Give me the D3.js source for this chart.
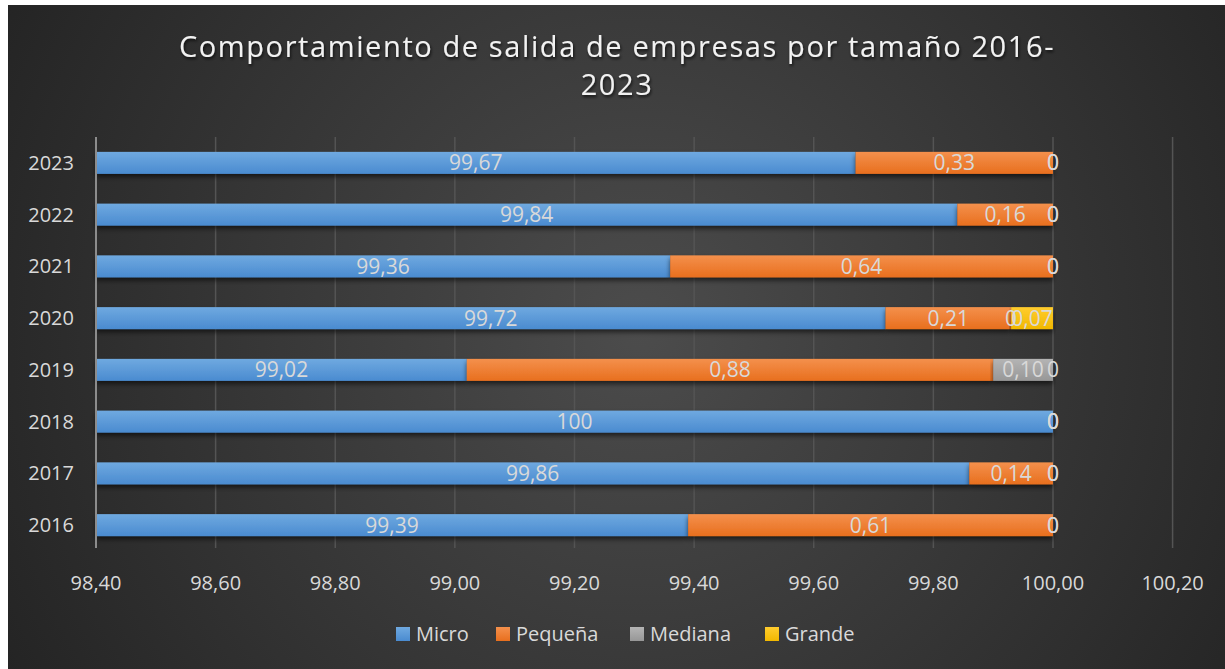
<!DOCTYPE html>
<html>
<head>
<meta charset="utf-8">
<script src="https://cdn.jsdelivr.net/npm/d3@7"></script>
<style>
  body { margin: 0; background: #ffffff; }
  svg { display: block; }
  text { font-family: "Open Sans", "Noto Sans", sans-serif; }
</style>
</head>
<body>
<svg></svg>
<script>
const width = 1225;
const height = 669;

// data
const years = ["2023", "2022", "2021", "2020", "2019", "2018", "2017", "2016"];
const micro = [99.67, 99.84, 99.36, 99.72, 99.02, 100, 99.86, 99.39];
const pequena = [0.33, 0.16, 0.64, 0.21, 0.88, 0, 0.14, 0.61];
const mediana = [0, 0, 0, 0, 0.1, 0, 0, 0];
const grande = [0, 0, 0, 0.07, 0, 0, 0, 0];
const seriesNames = ["Micro", "Pequeña", "Mediana", "Grande"];
const xTicks = [98.4, 98.6, 98.8, 99.0, 99.2, 99.4, 99.6, 99.8, 100.0, 100.2];
const title = ["Comportamiento de salida de empresas por tamaño 2016-", "2023"];

const colors = {
  Micro: ["#6fa9e0", "#4a8bd0"],
  Pequeña: ["#f4904c", "#e86f1e"],
  Mediana: ["#b4b4b4", "#979797"],
  Grande: ["#ffcc2e", "#f2b800"],
};

const rows = years.map((y, i) => ({
  year: y,
  Micro: micro[i],
  Pequeña: pequena[i],
  Mediana: mediana[i],
  Grande: grande[i],
}));

const fmt = (v) => (Number.isInteger(v) ? String(v) : v.toFixed(2).replace(".", ","));

//svg
const svg = d3.select("svg").attr("width", width).attr("height", height);
const defs = svg.append("defs");

//background
const bg = defs
  .append("radialGradient")
  .attr("id", "bg")
  .attr("gradientUnits", "userSpaceOnUse")
  .attr("cx", 640)
  .attr("cy", 330)
  .attr("r", 720);
bg.append("stop").attr("offset", "0%").attr("stop-color", "#4c4c4c");
bg.append("stop").attr("offset", "100%").attr("stop-color", "#242424");

seriesNames.forEach((k, i) => {
  const g = defs
    .append("linearGradient")
    .attr("id", "grad" + i)
    .attr("x1", 0)
    .attr("y1", 0)
    .attr("x2", 0)
    .attr("y2", 1);
  g.append("stop").attr("offset", "0%").attr("stop-color", colors[k][0]);
  g.append("stop").attr("offset", "100%").attr("stop-color", colors[k][1]);
});

const shadow = defs
  .append("filter")
  .attr("id", "shadow")
  .attr("x", "-5%")
  .attr("y", "-50%")
  .attr("width", "110%")
  .attr("height", "220%");
shadow
  .append("feDropShadow")
  .attr("dx", 0)
  .attr("dy", 3)
  .attr("stdDeviation", 2.5)
  .attr("flood-color", "#000")
  .attr("flood-opacity", 0.6);

const tshadow = defs.append("filter").attr("id", "tshadow");
tshadow
  .append("feDropShadow")
  .attr("dx", 1)
  .attr("dy", 2)
  .attr("stdDeviation", 1.5)
  .attr("flood-color", "#000")
  .attr("flood-opacity", 0.7);

svg
  .append("rect")
  .attr("x", 8)
  .attr("y", 5)
  .attr("width", width - 8)
  .attr("height", height - 5)
  .attr("fill", "url(#bg)");

//scales
const x = d3.scaleLinear().domain([98.4, 100.2]).range([96, 1172.6]).clamp(true);
const y = d3.scaleBand().domain(years).range([137, 551]).paddingInner(0.575).paddingOuter(0.2875);

//title
svg
  .append("g")
  .selectAll("text")
  .data(title)
  .enter()
  .append("text")
  .attr("x", 617)
  .attr("y", (d, i) => 57 + i * 38)
  .attr("text-anchor", "middle")
  .attr("fill", "#f2f2f2")
  .attr("font-size", 29)
  .attr("letter-spacing", 1.6)
  .attr("filter", "url(#tshadow)")
  .text((d) => d);

//grid
svg
  .append("g")
  .selectAll("line")
  .data(xTicks.slice(1))
  .enter()
  .append("line")
  .attr("x1", (d) => x(d))
  .attr("x2", (d) => x(d))
  .attr("y1", 137)
  .attr("y2", 548)
  .attr("stroke", "#545454")
  .attr("stroke-width", 1.5);

//x labels
svg
  .append("g")
  .selectAll("text")
  .data(xTicks)
  .enter()
  .append("text")
  .attr("x", (d) => x(d))
  .attr("y", 590)
  .attr("text-anchor", "middle")
  .attr("fill", "#d9d9d9")
  .attr("font-size", 20)
  .text((d) => d.toFixed(2).replace(".", ","));

//bars
const stacked = d3.stack().keys(seriesNames)(rows);

const layers = svg
  .append("g")
  .selectAll("g")
  .data(stacked)
  .enter()
  .append("g")
  .attr("fill", (d, i) => "url(#grad" + i + ")")
  .attr("filter", "url(#shadow)");

layers
  .selectAll("rect")
  .data((d) => d)
  .enter()
  .append("rect")
  .attr("x", (d) => x(d[0]))
  .attr("y", (d) => y(d.data.year))
  .attr("width", (d) => x(d[1]) - x(d[0]))
  .attr("height", y.bandwidth());

//y axis line
svg
  .append("line")
  .attr("x1", 96)
  .attr("x2", 96)
  .attr("y1", 137)
  .attr("y2", 548)
  .attr("stroke", "#8c8c8c")
  .attr("stroke-width", 2);

//y labels
svg
  .append("g")
  .selectAll("text")
  .data(years)
  .enter()
  .append("text")
  .attr("x", 74)
  .attr("y", (d) => y(d) + y.bandwidth() / 2 + 7)
  .attr("text-anchor", "end")
  .attr("fill", "#d9d9d9")
  .attr("font-size", 20)
  .text((d) => d);

//data labels
svg
  .append("g")
  .selectAll("g")
  .data(stacked)
  .enter()
  .append("g")
  .selectAll("text")
  .data((layer) => layer.map((d) => ({ d: d, v: d.data[layer.key] })))
  .enter()
  .append("text")
  .attr("x", (o) => (x(o.d[0]) + x(o.d[1])) / 2)
  .attr("y", (o) => y(o.d.data.year) + y.bandwidth() / 2 + 7.5)
  .attr("text-anchor", "middle")
  .attr("fill", "#d9d9d9")
  .attr("font-size", 21)
  .text((o) => fmt(o.v));

//legend
const legendX = [396, 496, 630, 765];
const legend = svg
  .append("g")
  .selectAll("g")
  .data(seriesNames)
  .enter()
  .append("g")
  .attr("transform", (d, i) => "translate(" + legendX[i] + ",627)");

legend
  .append("rect")
  .attr("width", 14)
  .attr("height", 14)
  .attr("fill", (d, i) => "url(#grad" + i + ")");

legend
  .append("text")
  .attr("x", 20)
  .attr("y", 14)
  .attr("fill", "#d9d9d9")
  .attr("font-size", 20)
  .text((d) => d);
</script>
</body>
</html>
